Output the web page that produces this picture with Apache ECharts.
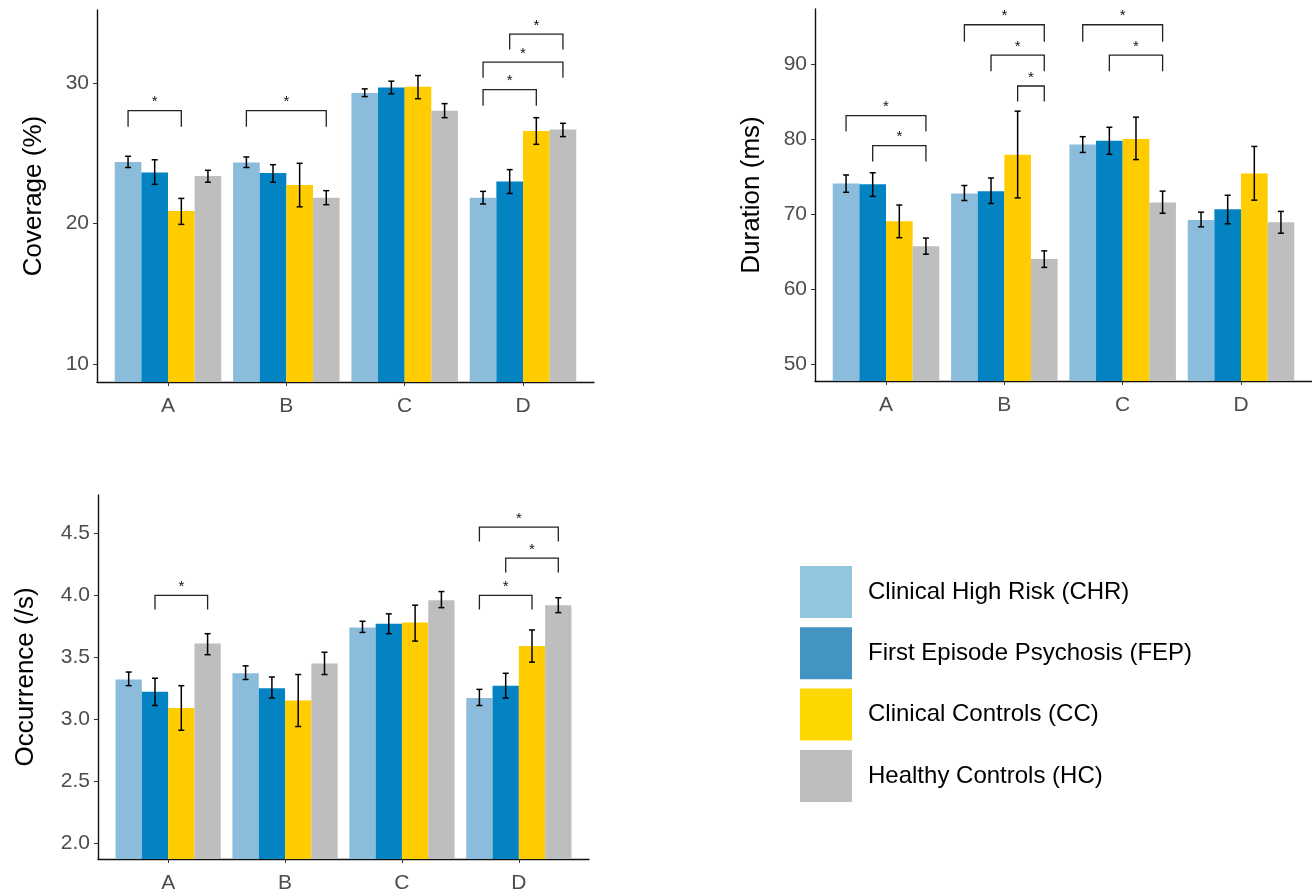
<!DOCTYPE html>
<html><head><meta charset="utf-8">
<script src="https://cdn.jsdelivr.net/npm/echarts@6/dist/echarts.min.js"></script>
<style>html,body{margin:0;padding:0;background:#fff}#c{width:1312px;height:896px}</style>
</head><body><div id="c"></div>
<script>
// ---------- data ----------
const categories = ['A', 'B', 'C', 'D'];
const groups = ['Clinical High Risk (CHR)', 'First Episode Psychosis (FEP)', 'Clinical Controls (CC)', 'Healthy Controls (HC)'];

// rows = groups (CHR, FEP, CC, HC), columns = categories (A..D)
const coverageMean = [[24.4, 24.35, 29.3, 21.85], [23.65, 23.6, 29.7, 23.0], [20.9, 22.75, 29.75, 26.6], [23.4, 21.85, 28.05, 26.7]];
const coverageLo   = [[24.0, 24.0, 29.05, 21.4], [22.8, 22.95, 29.25, 22.15], [19.95, 21.2, 28.9, 25.65], [22.95, 21.35, 27.55, 26.2]];
const coverageHi   = [[24.8, 24.75, 29.6, 22.3], [24.55, 24.2, 30.15, 23.85], [21.8, 24.3, 30.55, 27.55], [23.8, 22.35, 28.55, 27.15]];
const coverageTicks = [10, 20, 30];
// [category, fromGroup, toGroup, bracketLevel, legEnd]
const coverageBrackets = [[0, 0, 2, 28.05, 26.9], [1, 0, 3, 28.05, 26.9], [3, 0, 2, 29.55, 28.4], [3, 0, 3, 31.5, 30.4], [3, 1, 3, 33.5, 32.4]];

const durationMean = [[74.05, 72.75, 79.25, 69.2], [73.95, 73.05, 79.75, 70.65], [69.05, 77.9, 80.0, 75.4], [65.7, 64.0, 71.55, 68.9]];
const durationLo   = [[72.9, 71.8, 78.2, 68.3], [72.35, 71.4, 77.95, 68.7], [66.85, 72.15, 77.25, 71.85], [64.65, 62.9, 70.1, 67.45]];
const durationHi   = [[75.2, 73.8, 80.3, 70.25], [75.5, 74.8, 81.55, 72.5], [71.2, 83.7, 82.9, 79.0], [66.8, 65.1, 73.05, 70.35]];
const durationTicks = [50, 60, 70, 80, 90];
const durationBrackets = [[0, 0, 3, 83.1, 81.0], [0, 1, 3, 79.1, 77.0], [1, 0, 3, 95.2, 92.95], [1, 1, 3, 91.15, 89.0], [1, 2, 3, 87.05, 85.0], [2, 0, 3, 95.2, 92.95], [2, 1, 3, 91.15, 89.0]];

const occurrenceMean = [[3.32, 3.37, 3.74, 3.17], [3.22, 3.25, 3.77, 3.27], [3.09, 3.15, 3.78, 3.59], [3.61, 3.45, 3.96, 3.92]];
const occurrenceLo   = [[3.27, 3.32, 3.70, 3.11], [3.11, 3.17, 3.69, 3.17], [2.91, 2.94, 3.63, 3.46], [3.52, 3.36, 3.90, 3.86]];
const occurrenceHi   = [[3.38, 3.43, 3.79, 3.24], [3.33, 3.34, 3.85, 3.37], [3.27, 3.36, 3.92, 3.72], [3.69, 3.54, 4.03, 3.98]];
const occurrenceTicks = [2.0, 2.5, 3.0, 3.5, 4.0, 4.5];
const occurrenceBrackets = [[0, 1, 3, 4.0, 3.885], [3, 0, 2, 4.0, 3.885], [3, 1, 3, 4.3, 4.185], [3, 0, 3, 4.55, 4.435]];

// ---------- styling ----------
const barColors = ['#8BBCDB', '#0483C2', '#FFCC00', '#BEBEBE'];
const legendColors = ['#92C5DE', '#4393C3', '#FFD700', '#BEBEBE'];
const FONT = '"Liberation Sans", Arial, sans-serif';
const BW = 0.225;

const panels = [
  {title: 'Coverage (%)', mean: coverageMean, lo: coverageLo, hi: coverageHi, ticks: coverageTicks, br: coverageBrackets,
   min: 8.72, max: 35.22, grid: {left: 97, top: 10, width: 497, height: 372}, nameGap: 50, dec: 0},
  {title: 'Duration (ms)', mean: durationMean, lo: durationLo, hi: durationHi, ticks: durationTicks, br: durationBrackets,
   min: 47.77, max: 97.3, grid: {left: 815, top: 9, width: 497, height: 372}, nameGap: 50, dec: 0},
  {title: 'Occurrence (/s)', mean: occurrenceMean, lo: occurrenceLo, hi: occurrenceHi, ticks: occurrenceTicks, br: occurrenceBrackets,
   min: 1.87, max: 4.81, grid: {left: 98, top: 495, width: 491, height: 364}, nameGap: 59, dec: 1}
];

function makeBar(g) {
  return function (params, api) {
    const k = api.value(0), v = api.value(1), lo = api.value(2), hi = api.value(3);
    const cx = k + (g - 1.5) * BW;
    const tl = api.coord([cx - BW / 2, v]);
    const tr = api.coord([cx + BW / 2, v]);
    const cs = params.coordSys;
    const bottom = cs.y + cs.height;
    const top = api.coord([cx, hi]);
    const bot = api.coord([cx, lo]);
    const cap = 3;
    const es = {stroke: '#000', lineWidth: 1.5};
    return {type: 'group', children: [
      {type: 'rect', shape: {x: tl[0], y: tl[1], width: tr[0] - tl[0], height: bottom - tl[1]}, style: {fill: barColors[g]}},
      {type: 'line', shape: {x1: top[0], y1: top[1], x2: bot[0], y2: bot[1]}, style: es},
      {type: 'line', shape: {x1: top[0] - cap, y1: top[1], x2: top[0] + cap, y2: top[1]}, style: es},
      {type: 'line', shape: {x1: bot[0] - cap, y1: bot[1], x2: bot[0] + cap, y2: bot[1]}, style: es}
    ]};
  };
}

function bracketRender(params, api) {
  const k = api.value(0), g1 = api.value(1), g2 = api.value(2), yl = api.value(3), ye = api.value(4);
  const x1 = k + (g1 - 1.5) * BW, x2 = k + (g2 - 1.5) * BW;
  const a = api.coord([x1, ye]), b = api.coord([x1, yl]), c = api.coord([x2, yl]), d = api.coord([x2, ye]);
  return {type: 'group', children: [
    {type: 'polyline', shape: {points: [a, b, c, d]}, style: {stroke: '#222', lineWidth: 1.3, fill: null}},
    {type: 'text', style: {text: '*', x: (b[0] + c[0]) / 2, y: b[1] - 1, align: 'center', verticalAlign: 'bottom',
      font: '15px ' + FONT, fill: '#111'}}
  ]};
}

const grid = [], xAxis = [], yAxis = [], series = [];
panels.forEach((p, i) => {
  grid.push(Object.assign({containLabel: false}, p.grid));
  xAxis.push({
    gridIndex: i, type: 'value', min: -0.6, max: 3.6,
    axisLine: {show: true, onZero: false, lineStyle: {color: '#111', width: 1.4}},
    axisTick: {show: true, customValues: [0, 1, 2, 3], length: 4, lineStyle: {color: '#333', width: 1}},
    axisLabel: {show: true, customValues: [0, 1, 2, 3], formatter: v => categories[Math.round(v)], fontSize: 21, color: '#4D4D4D', fontFamily: FONT, margin: 14},
    splitLine: {show: false}
  });
  yAxis.push({
    gridIndex: i, type: 'value', min: p.min, max: p.max,
    name: p.title, nameLocation: 'middle', nameRotate: 90, nameGap: p.nameGap,
    nameTextStyle: {fontSize: 26, color: '#000', fontFamily: FONT},
    axisLine: {show: true, onZero: false, lineStyle: {color: '#111', width: 1.4}},
    axisTick: {show: true, customValues: p.ticks, length: 4, lineStyle: {color: '#333', width: 1}},
    axisLabel: {show: true, customValues: p.ticks, formatter: v => Number(v).toFixed(p.dec), fontSize: 21, color: '#4D4D4D', fontFamily: FONT, margin: 8},
    splitLine: {show: false}
  });
  groups.forEach((name, g) => {
    series.push({
      type: 'custom', name: name, xAxisIndex: i, yAxisIndex: i,
      itemStyle: {color: barColors[g]},
      data: categories.map((c, k) => [k, p.mean[g][k], p.lo[g][k], p.hi[g][k]]),
      encode: {x: 0, y: 1}, renderItem: makeBar(g), clip: false, silent: true
    });
  });
  series.push({
    type: 'custom', name: 'brackets' + i, xAxisIndex: i, yAxisIndex: i,
    data: p.br, encode: {x: 0, y: 3}, renderItem: bracketRender, clip: false, silent: true
  });
});

const chart = echarts.init(document.getElementById('c'), null, {renderer: 'canvas'});
chart.setOption({
  animation: false,
  backgroundColor: '#fff',
  textStyle: {fontFamily: FONT},
  grid, xAxis, yAxis, series,
  legend: {
    orient: 'vertical', left: 800, top: 566, padding: 0, icon: 'rect',
    itemWidth: 52, itemHeight: 52, itemGap: 9.3,
    selectedMode: false,
    textStyle: {fontSize: 24, color: '#000', fontFamily: FONT, padding: [8, 0, 0, 11]},
    data: groups.map((n, i) => ({name: n, itemStyle: {color: legendColors[i]}}))
  }
});
</script></body></html>
